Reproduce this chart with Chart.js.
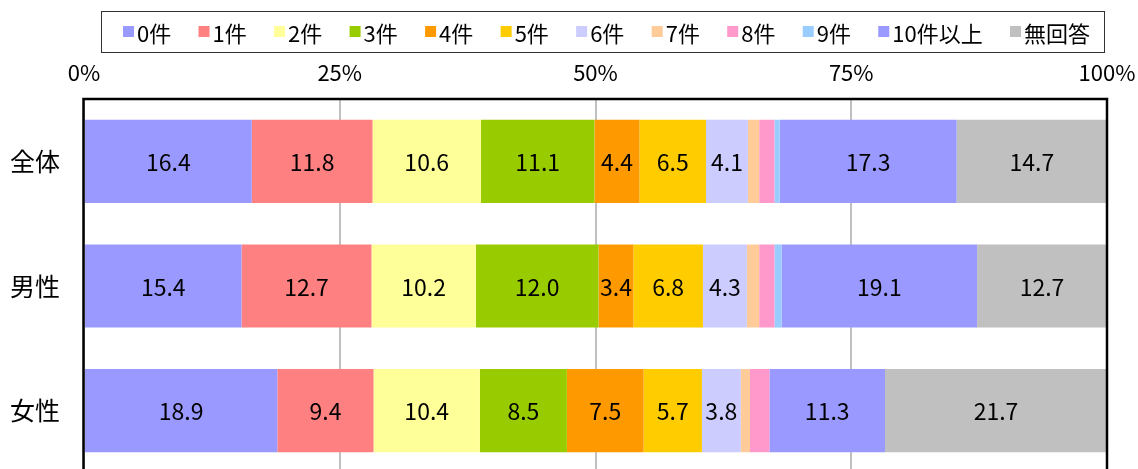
<!DOCTYPE html>
<html lang="ja">
<head>
<meta charset="utf-8">
<title>件数の分布</title>
<script src="https://cdn.jsdelivr.net/npm/chart.js@4.4.1/dist/chart.umd.min.js"></script>
<style>
  html, body { margin: 0; padding: 0; background: #fff; overflow: hidden; }
  #wrap { width: 1138px; height: 469px; overflow: hidden; }
  canvas { display: block; }
</style>
</head>
<body>
<div id="wrap"><canvas id="chart" width="1138" height="473"></canvas></div>
<script>
// Row labels and series names
const categories = ['全体', '男性', '女性'];
const seriesNames = ['0件', '1件', '2件', '3件', '4件', '5件', '6件', '7件', '8件', '9件', '10件以上', '無回答'];

// Share (%) of each answer, one array per row, in series order
const totalShares  = [16.4, 11.8, 10.6, 11.1, 4.4, 6.5, 4.1, 1.1, 1.5, 0.5, 17.3, 14.7];
const maleShares   = [15.4, 12.7, 10.2, 12.0, 3.4, 6.8, 4.3, 1.2, 1.5, 0.7, 19.1, 12.7];
const femaleShares = [18.9,  9.4, 10.4,  8.5, 7.5, 5.7, 3.8, 0.9, 1.9, 0.0, 11.3, 21.7];

// Axis tick values (%)
const tickValues = [0, 25, 50, 75, 100];

// Segment fill colours, in series order
const seriesColors = ['#9999FF', '#FF8080', '#FFFF99', '#99CC00', '#FF9900', '#FFCC00',
                      '#CCCCFF', '#FFCC99', '#FF99CC', '#99CCFF', '#9999FF', '#C0C0C0'];

const FONT = '"Noto Sans CJK JP", "Noto Sans", sans-serif';
const rows = [totalShares, maleShares, femaleShares];

const datasets = seriesNames.map((name, i) => ({
  label: name,
  data: rows.map(r => r[i]),
  backgroundColor: seriesColors[i],
  borderWidth: 0,
  categoryPercentage: 1,
  barPercentage: 0.667
}));

// Value labels drawn in the middle of each wide enough segment
const segmentLabels = {
  id: 'segmentLabels',
  afterDatasetsDraw(chart) {
    const ctx = chart.ctx;
    ctx.save();
    ctx.font = '23px ' + FONT;
    ctx.fillStyle = '#000';
    ctx.textAlign = 'center';
    ctx.textBaseline = 'middle';
    chart.data.datasets.forEach((ds, di) => {
      const meta = chart.getDatasetMeta(di);
      meta.data.forEach((bar, j) => {
        const v = ds.data[j];
        if (v < 3) return;
        const p = bar.getProps(['x', 'y', 'base'], true);
        ctx.fillText(v.toFixed(1), (p.x + p.base) / 2, p.y + 1);
      });
    });
    ctx.restore();
  }
};

// Black outline around the plot area
const plotFrame = {
  id: 'plotFrame',
  afterDatasetsDraw(chart) {
    const a = chart.chartArea;
    const ctx = chart.ctx;
    ctx.save();
    ctx.strokeStyle = '#000';
    ctx.lineWidth = 2.5;
    ctx.strokeRect(a.left - 0.5, a.top, a.right - a.left + 0.5, a.bottom - a.top + 10);
    ctx.restore();
  }
};

// Single-row legend inside a thin frame
const framedLegend = {
  id: 'framedLegend',
  afterDraw(chart) {
    const ctx = chart.ctx;
    const box = { left: 101, top: 11, right: 1104, bottom: 52 };
    const startX = 123, endX = 1090, cy = 32.5, sq = 11, gapText = 3;
    ctx.save();
    ctx.font = '22px ' + FONT;
    const widths = chart.data.datasets.map(d => ctx.measureText(d.label).width);
    const used = widths.reduce((s, w) => s + w + sq + gapText, 0);
    const gap = (endX - startX - used) / (widths.length - 1);
    ctx.fillStyle = '#fff';
    ctx.fillRect(box.left, box.top, box.right - box.left, box.bottom - box.top);
    ctx.strokeStyle = '#333';
    ctx.lineWidth = 1;
    ctx.strokeRect(box.left + 0.5, box.top + 0.5, box.right - box.left, box.bottom - box.top);
    let x = startX;
    ctx.textBaseline = 'middle';
    ctx.textAlign = 'left';
    chart.data.datasets.forEach((d, i) => {
      ctx.fillStyle = d.backgroundColor;
      ctx.fillRect(x, cy - sq / 2 - 1, sq, sq);
      ctx.fillStyle = '#000';
      ctx.fillText(d.label, x + sq + gapText, cy + 1);
      x += sq + gapText + widths[i] + gap;
    });
    ctx.restore();
  }
};

new Chart(document.getElementById('chart'), {
  type: 'bar',
  data: { labels: categories, datasets },
  plugins: [segmentLabels, plotFrame, framedLegend],
  options: {
    indexAxis: 'y',
    responsive: false,
    animation: false,
    devicePixelRatio: 1,
    layout: { padding: { top: 55, left: 10, right: 31, bottom: 0 } },
    plugins: { legend: { display: false }, tooltip: { enabled: false } },
    scales: {
      x: {
        position: 'top',
        stacked: true,
        min: 0,
        max: 100,
        afterBuildTicks(scale) { scale.ticks = tickValues.map(v => ({ value: v })); },
        afterFit(scale) {
          scale.height = 44;
          scale.paddingLeft = 0;
          scale.paddingRight = 0;
        },
        ticks: {
          padding: 13,
          color: '#000',
          font: { family: FONT, size: 22 },
          callback: v => v + '%'
        },
        grid: { color: '#C0C0C0', lineWidth: 2, drawTicks: false },
        border: { display: false }
      },
      y: {
        stacked: true,
        afterFit(scale) {
          scale.width = 74;
          scale.paddingTop = 0;
          scale.paddingBottom = 0;
        },
        ticks: {
          crossAlign: 'far',
          padding: 0,
          color: '#000',
          font: { family: FONT, size: 25 }
        },
        grid: { display: false, drawTicks: false },
        border: { display: false }
      }
    }
  }
});
</script>
</body>
</html>
